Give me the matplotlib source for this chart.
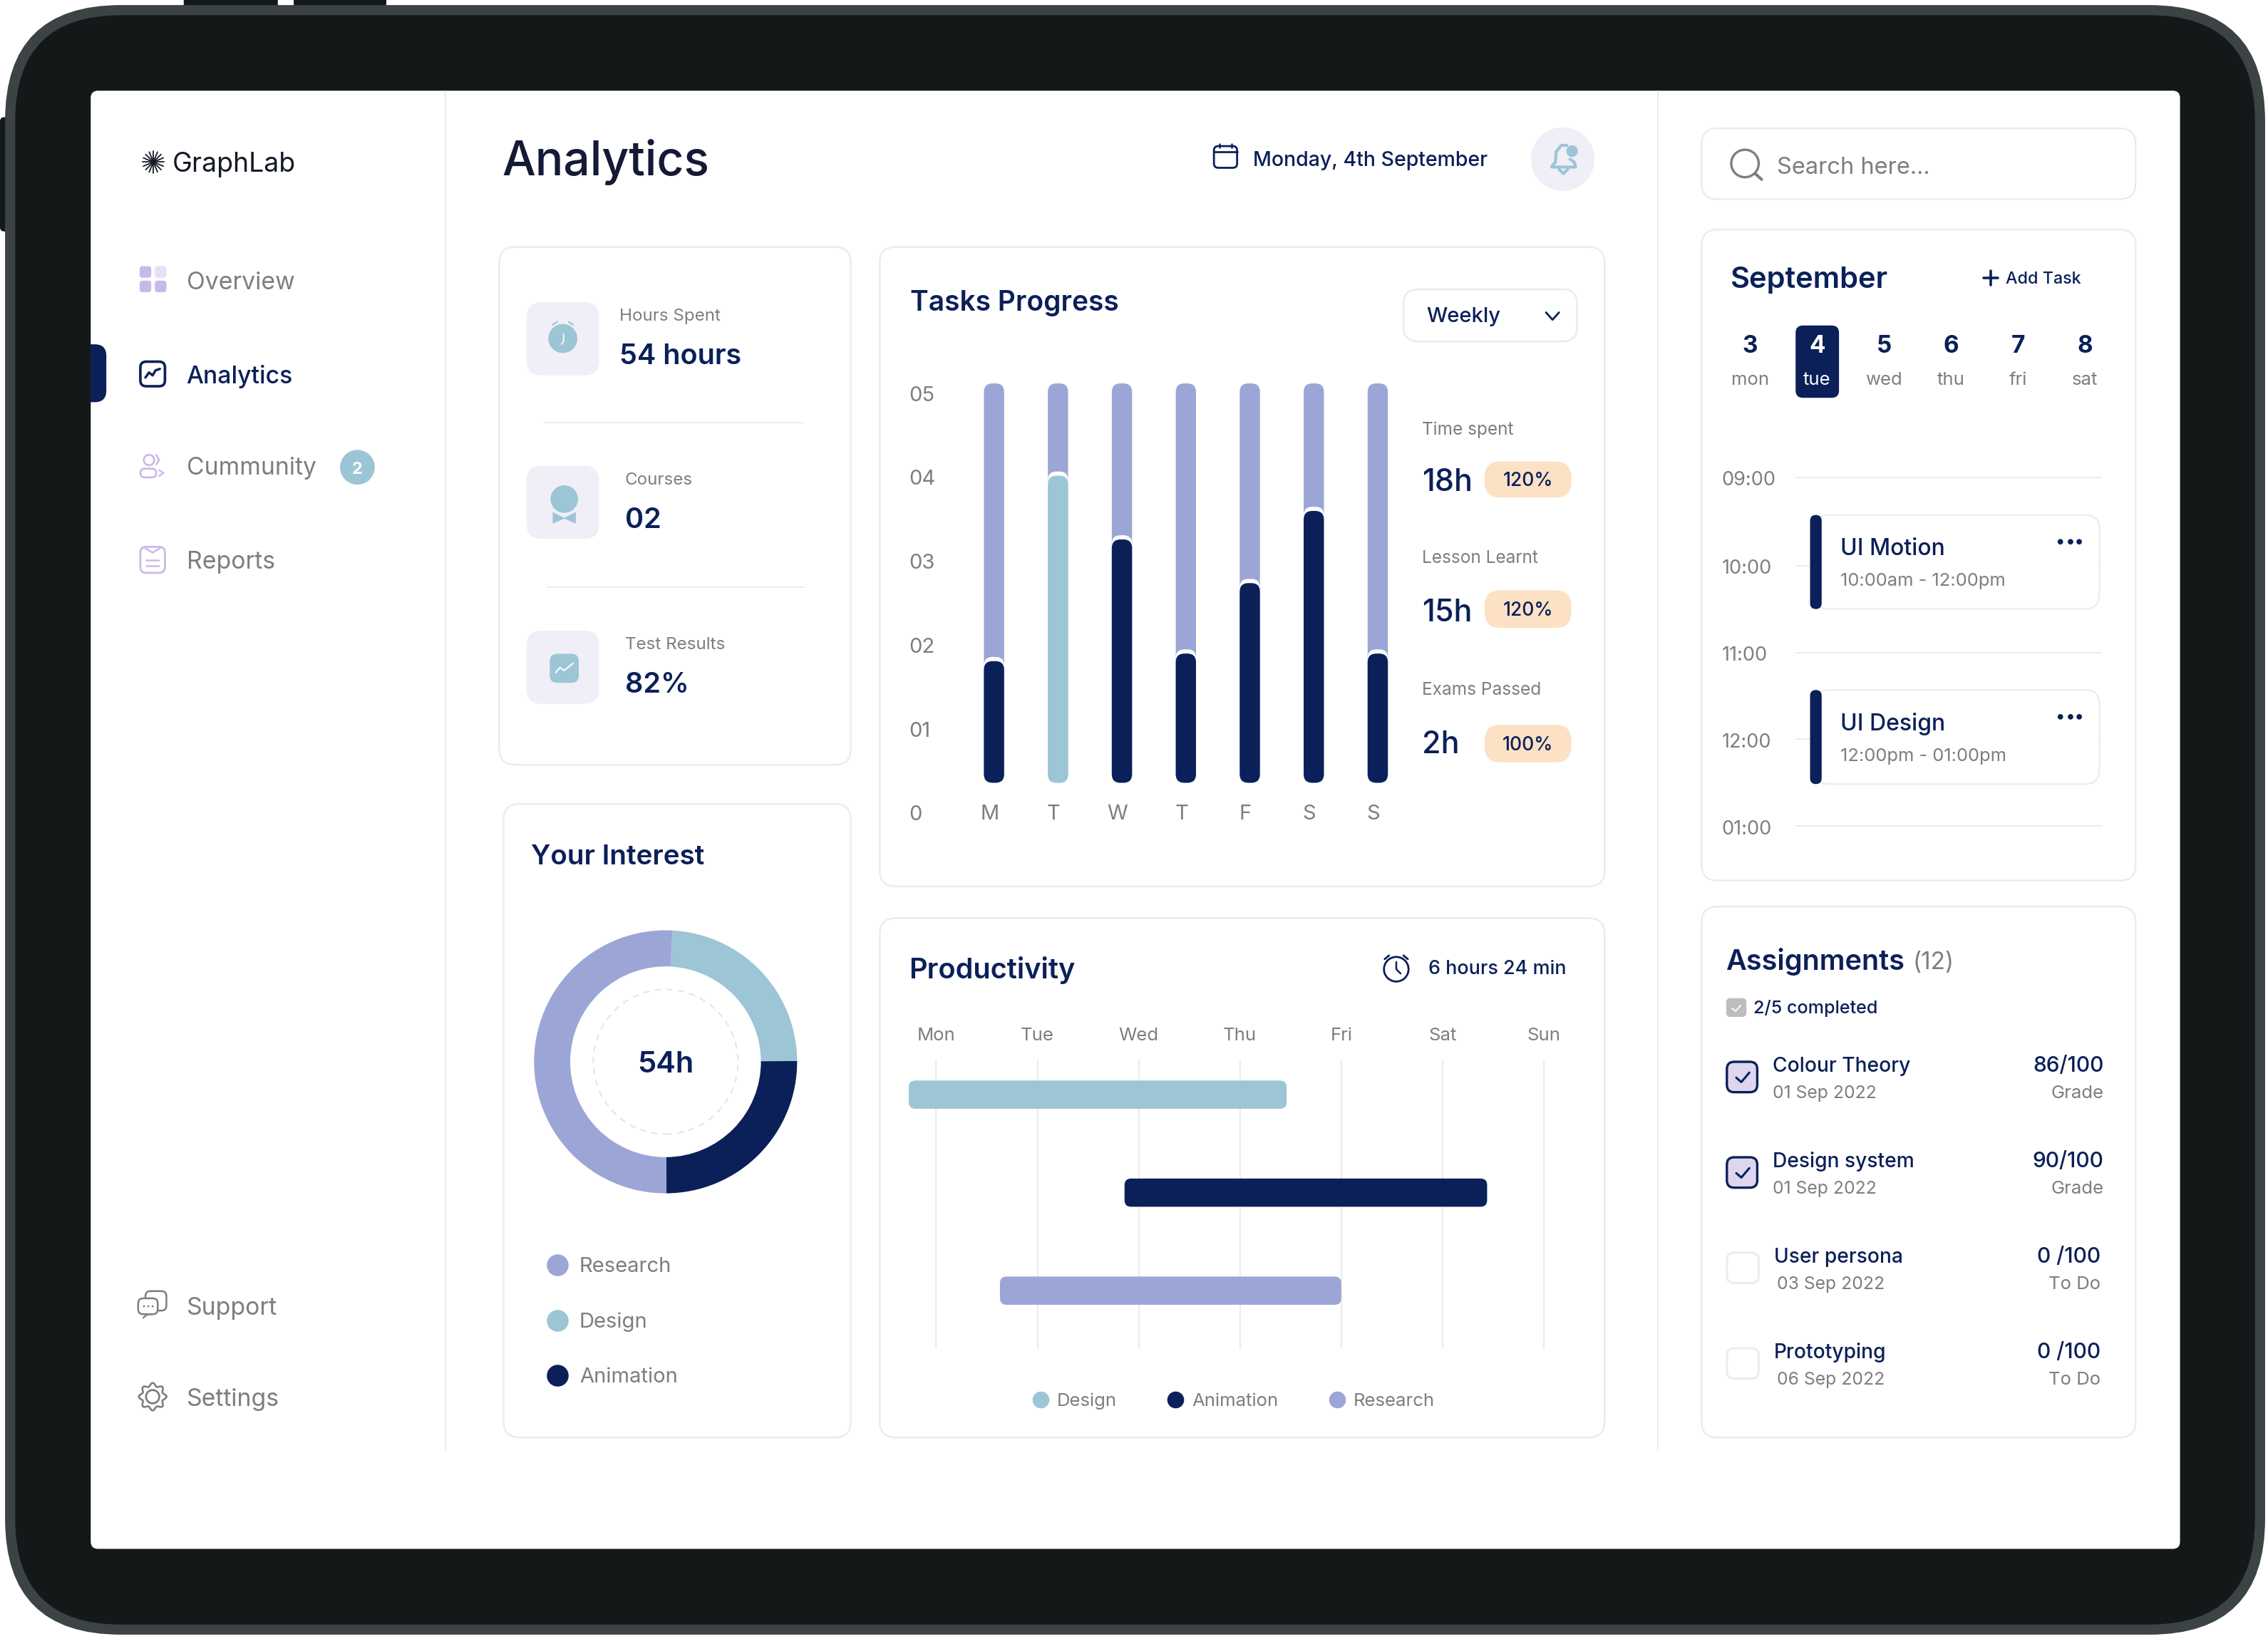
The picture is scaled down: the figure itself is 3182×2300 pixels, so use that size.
import numpy as np
import matplotlib
matplotlib.use("Agg")
import matplotlib.pyplot as plt
from matplotlib.lines import Line2D
from matplotlib.patches import Circle, FancyBboxPatch, Polygon, Rectangle

plt.rcParams["font.family"] = ["Inter", "DejaVu Sans"]

# tasks progress, read against the 0-05 labels
task_days = ["M", "T", "W", "T", "F", "S", "S"]
task_done = [1.81, 4.02, 3.26, 1.90, 2.74, 3.60, 1.90]
task_kind = ["Animation", "Design", "Animation", "Animation", "Animation", "Animation", "Animation"]
task_base = 0.36
task_top = 5.12
task_ticks = ["0", "01", "02", "03", "04", "05"]

# your interest
interest_names = ["Design", "Animation", "Research"]
interest_hours = [13.0, 13.5, 27.5]
interest_legend = ["Research", "Design", "Animation"]

# productivity, in days from monday
week_days = ["Mon", "Tue", "Wed", "Thu", "Fri", "Sat", "Sun"]
prod_names = ["Design", "Animation", "Research"]
prod_start = [-0.27, 1.86, 0.63]
prod_end = [3.46, 5.44, 4.00]

# side panels
side_stats = [("Time spent", "18h", "120%"), ("Lesson Learnt", "15h", "120%"), ("Exams Passed", "2h", "100%")]
left_stats = [("Hours Spent", "54 hours"), ("Courses", "02"), ("Test Results", "82%")]
cal_days = ["3", "4", "5", "6", "7", "8"]
cal_names = ["mon", "tue", "wed", "thu", "fri", "sat"]
cal_hours = ["09:00", "10:00", "11:00", "12:00", "01:00"]
assign_names = ["Colour Theory", "Design system", "User persona", "Prototyping"]
assign_dates = ["01 Sep 2022", "01 Sep 2022", "03 Sep 2022", "06 Sep 2022"]
assign_scores = ["86/100", "90/100", "0 /100", "0 /100"]
assign_notes = ["Grade", "Grade", "To Do", "To Do"]

NAVY = "#0B2059"
LAV = "#9CA6D6"
TEAL = "#9CC5D6"
GREY = "#7E7E7E"
LINE = "#ECECEE"
TILE = "#F0EEF6"
ICON = "#C9B9EA"
PEACH = "#FDE1C5"
colors = {"Design": TEAL, "Animation": NAVY, "Research": LAV}

W, H = 3182, 2300
K = 2.03  # coordinates below are in 1/2.03 of a pixel
FW, FH = W / K, H / K

fig = plt.figure(figsize=(W / 100, H / 100), dpi=100, facecolor="white")
ui = fig.add_axes([0, 0, 1, 1])
ui.set_xlim(0, FW)
ui.set_ylim(FH, 0)
ui.axis("off")


def box(x0, y0, x1, y1, r, fc="none", ec="none", lw=1.5, z=1):
    p = FancyBboxPatch((x0, y0), x1 - x0, y1 - y0, boxstyle=f"round,pad=0,rounding_size={r}",
                       fc=fc, ec=ec, lw=lw, zorder=z)
    ui.add_patch(p)
    return p


def txt(x, y, s, size, color=GREY, weight="normal", ha="left"):
    ui.text(x, y - 0.3, s, fontsize=size, color=color, fontweight=weight, ha=ha, va="center_baseline", zorder=5)


def line(xs, ys, color=LINE, lw=1.5, z=2):
    ui.plot(xs, ys, color=color, lw=lw, solid_capstyle="round", zorder=z)


def axes_at(x0, y0, x1, y1):
    ax = fig.add_axes([x0 / FW, 1 - y1 / FH, (x1 - x0) / FW, (y1 - y0) / FH])
    ax.patch.set_alpha(0)
    for s in ax.spines.values():
        s.set_visible(False)
    return ax


def rounded_bar(ax, x0, y0, w, h, r, aspect, color, z=3):
    ax.add_patch(FancyBboxPatch((x0, y0), w, h, boxstyle=f"round,pad=0,rounding_size={r}",
                                mutation_aspect=aspect, fc=color, ec="none", zorder=z))


# tablet frame
for x0, x1 in [(127, 192), (203, 267)]:
    box(x0, -6, x1, 8, 4, fc="#141819")
box(0, 81, 8, 160, 3, fc="#141819")
box(3.5, 3.5, 1565.5, 1130, 80, fc="#3C4345", z=1)
box(10.5, 10.5, 1558.5, 1123, 73, fc="#141819", z=1)
box(62.7, 62.7, 1506.7, 1070.7, 5, fc="white", z=1)
tab = box(50, 238, 73.5, 278, 8, fc=NAVY, z=2)
tab.set_clip_path(Rectangle((62.7, 0), 200, 1000, transform=ui.transData))
line([308, 308], [63, 1002], lw=1.5)
line([1146, 1146], [63, 1002], lw=1.5)

# logo
for a in np.deg2rad(np.arange(0, 360, 22.5)):
    line([106, 106 + 7.5 * np.cos(a)], [112, 112 + 7.5 * np.sin(a)], color="#141A26", lw=1.3)
txt(119, 112, "GraphLab", 27, "#141A26")

# nav
nav_sz = 24.3
txt(129, 194, "Overview", nav_sz)
txt(128.5, 259, "Analytics", nav_sz, NAVY, "medium")
txt(129, 322, "Cummunity", nav_sz)
txt(129, 387, "Reports", nav_sz)
txt(129, 903, "Support", nav_sz)
txt(129, 966, "Settings", nav_sz)
for (cx, cy), c in zip([(96.5, 184), (107, 184), (96.5, 194), (107, 194)], [ICON, "#E6E0F6", ICON, ICON]):
    box(cx, cy, cx + 8, cy + 8, 2, fc=c)
box(97, 250, 114, 267, 4, ec=NAVY, lw=2.6)
line([100.5, 103, 105.5, 107.5, 110.5], [261, 257.5, 259.5, 256, 255], color=NAVY, lw=2.4)
ui.add_patch(Circle((103, 318), 3.6, fc="none", ec=ICON, lw=2, zorder=2))
box(97, 324, 108, 330, 3, ec=ICON, lw=2)
line([108, 110, 108], [314.5, 318, 321], color=ICON, lw=1.8)
line([110, 113, 110], [325, 327, 329], color=ICON, lw=1.8)
ui.add_patch(Circle((247, 323), 12, fc=TEAL, zorder=2))
txt(247, 323.5, "2", 17, "white", "bold", "center")
box(97, 378, 114, 396, 4, ec=ICON, lw=2)
line([100.5, 105.5, 110.5], [379, 382, 379], color=ICON, lw=1.8)
line([101, 110], [387, 387], color=ICON, lw=1.8)
line([101, 110], [391, 391], color=ICON, lw=1.8)
box(100.5, 892.5, 115, 906, 3.5, fc="white", ec=GREY, lw=1.8, z=2)
box(95.5, 897.5, 109, 908.5, 3.5, fc="white", ec=GREY, lw=1.8, z=2)
line([99, 102, 105], [911, 908.5, 908.5], color=GREY, lw=1.6, z=3)
for dx in (99.5, 102.5, 105.5):
    ui.add_patch(Circle((dx, 903), 0.7, fc=GREY, zorder=3))
ui.add_patch(Circle((105.5, 965.5), 4.6, fc="none", ec=GREY, lw=2, zorder=2))
gear_a = np.linspace(0, 2 * np.pi, 200)
gear_r = 8.4 + 1.1 * np.cos(8 * gear_a)
line(105.5 + gear_r * np.cos(gear_a), 965.5 + gear_r * np.sin(gear_a), color=GREY, lw=1.9)

# header
txt(347, 109, "Analytics", 47.5, "#141A36", "medium")
txt(866, 110, "Monday, 4th September", 20.5, NAVY, "medium")
box(839, 101, 855, 116, 3, ec=NAVY, lw=2)
line([839, 855], [105, 105], color=NAVY, lw=2)
line([843, 843], [99.5, 102], color=NAVY, lw=1.8)
line([851, 851], [99.5, 102], color=NAVY, lw=1.8)
ui.add_patch(Circle((1080, 110), 22, fc=TILE, zorder=2))
line([1072.5, 1075, 1075.5, 1079, 1083], [115, 112, 105, 100.5, 100.5], color=TEAL, lw=3, z=3)
line([1085, 1088, 1089, 1072.5], [110, 112, 115.5, 115.5], color=TEAL, lw=3, z=3)
line([1077.5, 1080.5, 1083.5], [117, 120, 117], color=TEAL, lw=3, z=3)
ui.add_patch(Circle((1086.5, 104.5), 4, fc=TEAL, zorder=3))

# cards
for c in [(345, 171, 588, 529), (348, 556, 588, 994), (608, 171, 1109, 613), (608, 635, 1109, 994),
          (1176, 89, 1476, 138), (1176, 159, 1476, 609), (1176, 627, 1476, 994)]:
    box(c[0], c[1] - 0.3, c[2], c[3] - 0.3, 11, fc="white", ec=LINE, lw=1.8)

# left stats
for (lab, val), ty, lx in zip(left_stats, [218, 331, 445], [428, 432, 432]):
    txt(lx, ty, lab, 17.4)
    txt(lx, ty + 27, val, 28.5, NAVY, "semibold")
for ty in [209, 322, 436]:
    box(364, ty, 414, ty + 50.5, 10, fc=TILE)
line([376, 555], [292, 292], lw=1.4)
line([378, 556], [406, 406], lw=1.4)
ui.add_patch(Circle((389, 234), 10, fc=TEAL, zorder=3))
line([382, 385], [224.5, 222.5], color=TEAL, lw=1.6, z=3)
line([393, 396], [222.5, 224.5], color=TEAL, lw=1.6, z=3)
line([389.5, 389.5, 388], [231, 236, 238], color="white", lw=1.3, z=4)
ui.add_patch(Circle((390, 345), 9.5, fc=TEAL, zorder=3))
ui.add_patch(Polygon([(382, 354), (390, 358), (398, 354), (398, 362), (390, 358.5), (382, 362)], fc=TEAL, zorder=3))
box(380, 452, 400, 472, 5, fc=TEAL, z=3)
line([384, 387, 390, 393, 396], [465, 461.5, 463.5, 461, 458.5], color="white", lw=1.5, z=4)

# tasks progress chrome
txt(629, 208, "Tasks Progress", 28, NAVY, "semibold")
box(970, 200, 1090, 236, 10, fc="white", ec=LINE, lw=1.8)
txt(986, 218, "Weekly", 21, NAVY, "medium")
line([1068.5, 1073, 1077.5], [216, 221, 216], color=NAVY, lw=2)
for (lab, val, pct), ly, vy, py in zip(side_stats, [296, 385, 476], [332, 422, 513], [(319, 344), (408, 434), (501, 527)]):
    txt(983, ly, lab, 17.6)
    txt(983, vy, val, 31, NAVY, "medium")
    box(1026, py[0], 1086, py[1], 11, fc=PEACH)
    txt(1056, (py[0] + py[1]) / 2, pct, 19, NAVY, "medium", "center")

# tasks progress chart
px_x = 44.2
px_y = 58.0
tax = axes_at(628, 562 - 5.2 * px_y, 965, 562)
tax.set_xlim((628 - 687) / px_x, (965 - 687) / px_x)
tax.set_ylim(0, 5.2)
aspect = px_x / px_y
bar_w = 14 / px_x
corner = 6 / px_x
for i, done in enumerate(task_done):
    x0 = i - bar_w / 2
    rounded_bar(tax, x0, task_base, bar_w, task_top - task_base, corner, aspect, LAV, 3)
    rounded_bar(tax, x0, task_base, bar_w, done + 0.05 - task_base, corner, aspect, "white", 4)
    rounded_bar(tax, x0, task_base, bar_w, done - task_base, corner, aspect, colors[task_kind[i]], 5)
tax.set_yticks(range(6), task_ticks)
tax.set_xticks(np.arange(7) - 0.07, task_days)
tax.tick_params(length=0, pad=0, labelsize=21, labelcolor=GREY)
tax.tick_params(axis="x", pad=1.5)
for lab in tax.get_yticklabels():
    lab.set_ha("left")
for lab in tax.get_xticklabels():
    lab.set_va("center")

# your interest
txt(367, 591, "Your Interest", 27.8, NAVY, "semibold")
dax = axes_at(360, 634, 560, 834)
dax.pie(interest_hours, colors=[colors[n] for n in interest_names], startangle=87, counterclock=False,
        radius=1, wedgeprops={"width": 0.275})
dax.set_xlim(-1.1, 1.1)
dax.set_ylim(-1.1, 1.1)
dax.add_patch(Circle((0, 0), 0.55, fc="none", ec="#E2E2E2", lw=1.3, ls=(0, (5, 4))))
dax.text(0, 0, "54h", fontsize=30, color=NAVY, fontweight="semibold", ha="center", va="center_baseline")
dax.legend(handles=[Line2D([], [], ls="", marker="o", ms=21, color=colors[n], label=n) for n in interest_legend],
           loc="upper left", bbox_to_anchor=(376, 869), bbox_transform=ui.transData, frameon=False,
           fontsize=21, labelcolor=GREY, borderpad=0, borderaxespad=0, handletextpad=0.4, handlelength=1.3,
           labelspacing=1.72)

# productivity
txt(628, 669, "Productivity", 28.6, NAVY, "semibold")
txt(987, 669, "6 hours 24 min", 19.4, NAVY, "medium")
ui.add_patch(Circle((965, 670), 8.5, fc="none", ec=NAVY, lw=2, zorder=2))
line([965, 965, 968], [665, 670, 673], color=NAVY, lw=1.8)
line([957, 960], [663, 660.5], color=NAVY, lw=2)
line([970, 973], [660.5, 663], color=NAVY, lw=2)
day_px = 70.0
row_px = 67.75
pax = axes_at(628, 732.7, 1090, 932.7)
pax.set_xlim((628 - 647) / day_px, (1090 - 647) / day_px)
pax.set_ylim((933 - 757) / row_px, (733 - 757) / row_px)
pax.vlines(range(7), pax.get_ylim()[0], pax.get_ylim()[1], color=LINE, lw=1.6, zorder=1)
bar_h = 19.5 / row_px
for i, n in enumerate(prod_names):
    # flipped y axis, so the corner radius still works with a positive aspect
    rounded_bar(pax, prod_start[i], i - bar_h / 2, prod_end[i] - prod_start[i], bar_h, 4.5 / day_px,
                day_px / row_px, colors[n], 3)
pax.set_xticks(range(7), week_days)
pax.set_yticks([])
pax.xaxis.tick_top()
pax.tick_params(axis="x", length=0, pad=16, labelsize=18.5, labelcolor=GREY)
pax.legend(handles=[Line2D([], [], ls="", marker="o", ms=16, color=colors[n], label=n) for n in prod_names],
           loc="center left", bbox_to_anchor=(711.5, 968.5), bbox_transform=ui.transData, frameon=False, ncols=3,
           fontsize=18.5, labelcolor=GREY, borderpad=0, borderaxespad=0, handletextpad=0.3, handlelength=1.2,
           columnspacing=2.6)

# search
ui.add_patch(Circle((1206, 113), 9.5, fc="none", ec=GREY, lw=2.4, zorder=2))
line([1213, 1217.5], [120, 124], color=GREY, lw=3)
txt(1228, 114.5, "Search here...", 23.5)

# calendar
txt(1196, 192, "September", 30, NAVY, "semibold")
line([1371, 1381], [192, 192], color=NAVY, lw=2.6)
line([1376, 1376], [187, 197], color=NAVY, lw=2.6)
txt(1386, 192, "Add Task", 16.8, NAVY, "medium")
box(1241, 225, 1271, 275, 5, fc=NAVY)
for i, (d, n) in enumerate(zip(cal_days, cal_names)):
    x = 1209.5 + 46.3 * i
    sel = d == "4"
    txt(x, 238, d, 24, "white" if sel else NAVY, "bold", "center")
    txt(x, 262, n, 18.5, "white" if sel else GREY, "normal", "center")
for h, y in zip(cal_hours, [331, 392, 452, 512, 572]):
    txt(1190, y, h, 19.5)
    line([1241, 1452], [y - 1, y - 1], lw=1.4)
for y0, name, span in [(356, "UI Motion", "10:00am - 12:00pm"), (477, "UI Design", "12:00pm - 01:00pm")]:
    box(1254, y0, 1451, y0 + 65, 10, fc="white", ec=LINE, lw=1.6, z=3)
    box(1251, y0, 1259, y0 + 65, 4, fc=NAVY, z=3)
    txt(1272, y0 + 22, name, 23, NAVY, "medium")
    txt(1272, y0 + 45, span, 18.4)
    for dx in (1424, 1431, 1437):
        ui.add_patch(Circle((dx, y0 + 18.5), 1.9, fc=NAVY, zorder=5))

# assignments
txt(1192.5, 663, "Assignments", 28.6, NAVY, "semibold")
txt(1322, 664, "(12)", 24)
box(1193, 690, 1207, 703, 3, fc="#BDBDBD")
line([1197, 1199.5, 1203], [697, 699, 695], color="white", lw=1.4, z=3)
txt(1212, 696, "2/5 completed", 18.1, NAVY, "medium")
for i, (n, d, s, g) in enumerate(zip(assign_names, assign_dates, assign_scores, assign_notes)):
    dy = 66 * i
    done = i < 2
    txt(1225 if done else 1226, 736 + dy, n, 20.3, NAVY, "medium")
    txt(1225 if done else 1228, 755 + dy, d, 17.8)
    txt(1454 if done else 1452, 736 + dy, s, 21.5, NAVY, "medium", "right")
    txt(1454 if done else 1452, 755 + dy, g, 18.5, GREY, "normal", "right")
    if done:
        box(1193.5, 734 + dy, 1214.5, 755 + dy, 5, fc="#DCD6EE", ec=NAVY, lw=2.4)
        line([1200, 1203.5, 1209], [745 + dy, 748 + dy, 741.5 + dy], color=NAVY, lw=2.2, z=3)
    else:
        box(1193.5, 866 + 66 * (i - 2), 1215.5, 887 + 66 * (i - 2), 5, fc="white", ec=LINE, lw=2.2)

fig.savefig("out.png", dpi=100, facecolor="white")
